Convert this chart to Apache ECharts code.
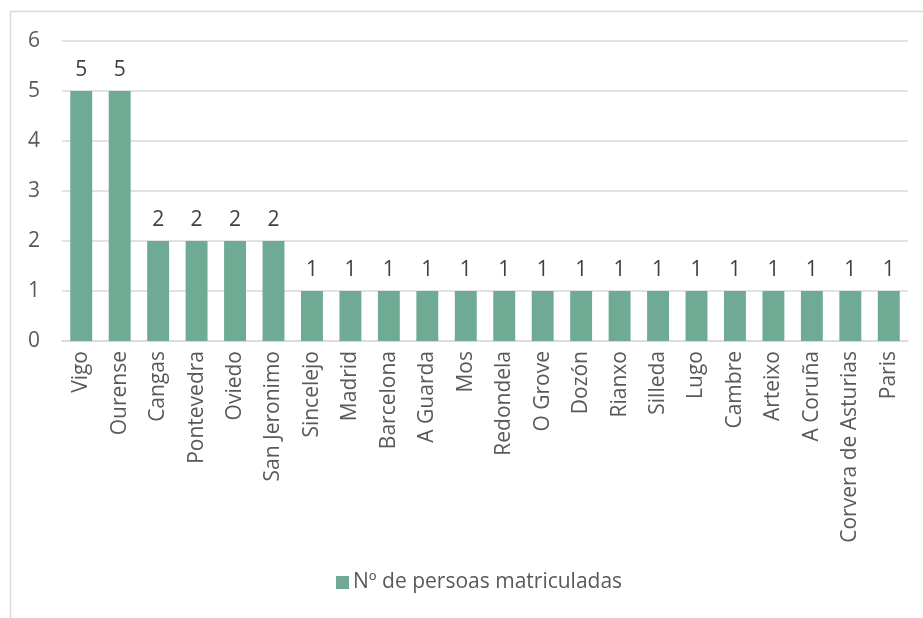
<!DOCTYPE html>
<html>
<head>
<meta charset="utf-8">
<script src="https://cdn.jsdelivr.net/npm/echarts@6/dist/echarts.min.js"></script>
<style>
  html,body{margin:0;padding:0;background:#fff;}
  #chart{width:923px;height:618px;}
</style>
</head>
<body>
<div id="chart"></div>
<script>
// categorías (ciudades)
var cidades = ['Vigo','Ourense','Cangas','Pontevedra','Oviedo','San Jeronimo','Sincelejo','Madrid','Barcelona','A Guarda','Mos','Redondela','O Grove','Dozón','Rianxo','Silleda','Lugo','Cambre','Arteixo','A Coruña','Corvera de Asturias','Paris'];
// nº de persoas matriculadas
var matriculadas = [5,5,2,2,2,2,1,1,1,1,1,1,1,1,1,1,1,1,1,1,1,1];
var nomeSerie = 'Nº de persoas matriculadas';

var fonte = '"Open Sans", "Noto Sans", sans-serif';

var mychart = echarts.init(document.getElementById('chart'));
var option = {
    backgroundColor: '#ffffff',
    animation: false,
    textStyle: { fontFamily: fonte },
    // marco exterior
    graphic: [{
        type: 'rect',
        shape: { x: 10.5, y: 11.5, width: 1000, height: 1000 },
        style: { fill: 'none', stroke: '#d9d9d9', lineWidth: 1.5 },
        silent: true
    }],
    grid: { left: 62, right: 15, top: 41, bottom: 277 },
    legend: {
        bottom: 20,
        left: 331,
        itemWidth: 13,
        itemHeight: 13,
        itemGap: 6,
        icon: 'rect',
        textStyle: { color: '#595959', fontSize: 21, fontFamily: fonte, padding: [0, 0, 0, -1] },
        data: [nomeSerie]
    },
    xAxis: {
        type: 'category',
        data: cidades,
        axisLine: { lineStyle: { color: '#d9d9d9', width: 1.5 } },
        axisTick: { show: false },
        axisLabel: {
            rotate: 90,
            interval: 0,
            color: '#595959',
            fontSize: 21,
            margin: 10,
            fontFamily: fonte
        }
    },
    yAxis: {
        type: 'value',
        min: 0,
        max: 6,
        interval: 1,
        axisLine: { show: false },
        axisTick: { show: false },
        axisLabel: { color: '#595959', fontSize: 21, margin: 22, fontFamily: fonte },
        splitLine: { lineStyle: { color: '#d9d9d9', width: 1.5 } }
    },
    series: [{
        name: nomeSerie,
        type: 'bar',
        data: matriculadas,
        barCategoryGap: '43%',
        itemStyle: { color: '#6fab94' },
        label: {
            show: true,
            position: 'top',
            distance: 10,
            color: '#404040',
            fontSize: 21,
            fontFamily: fonte
        }
    }]
};
mychart.setOption(option);
</script>
</body>
</html>
